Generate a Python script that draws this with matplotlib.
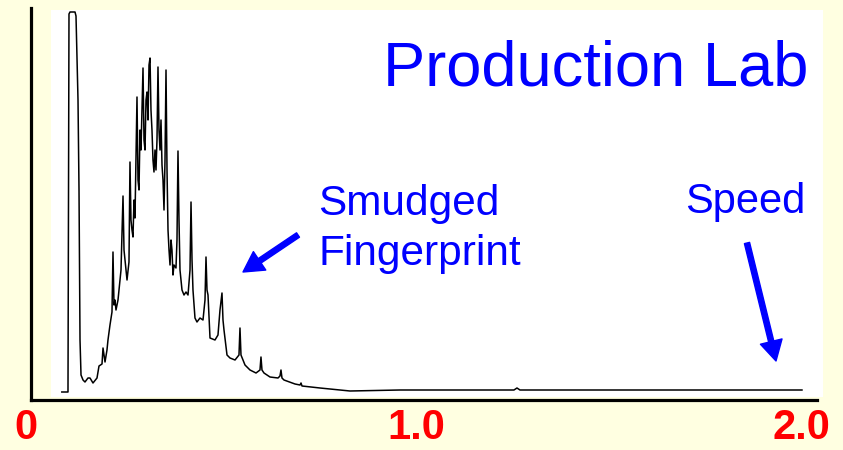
import matplotlib
matplotlib.use("Agg")
import matplotlib.pyplot as plt
from matplotlib.patches import Rectangle, FancyArrowPatch
from matplotlib.transforms import ScaledTranslation

# chromatogram trace (time, detector response)
time = [0.080, 0.096, 0.0986, 0.1012, 0.1142, 0.1168, 0.1220, 0.1246, 0.1272, 0.1298,
        0.1350, 0.1401, 0.1479, 0.1531, 0.1609, 0.1713, 0.1765, 0.1843, 0.1869, 0.1921,
        0.1972, 0.1998, 0.2050, 0.2102, 0.2128, 0.2154, 0.2180, 0.2206, 0.2258, 0.2336,
        0.2388, 0.2414, 0.2440, 0.2492, 0.2543, 0.2569, 0.2595, 0.2621, 0.2647, 0.2673,
        0.2699, 0.2751, 0.2777, 0.2803, 0.2829, 0.2855, 0.2881, 0.2907, 0.2933, 0.2959,
        0.2985, 0.3011, 0.3037, 0.3063, 0.3089, 0.3114, 0.3140, 0.3166, 0.3192, 0.3218,
        0.3244, 0.3270, 0.3296, 0.3322, 0.3348, 0.3374, 0.3400, 0.3426, 0.3452, 0.3478,
        0.3504, 0.3530, 0.3556, 0.3582, 0.3608, 0.3634, 0.3659, 0.3685, 0.3711, 0.3763,
        0.3789, 0.3815, 0.3841, 0.3867, 0.3919, 0.3971, 0.4023, 0.4075, 0.4127, 0.4153,
        0.4179, 0.4204, 0.4256, 0.4308, 0.4386, 0.4464, 0.4516, 0.4542, 0.4568, 0.4594,
        0.4646, 0.4775, 0.4853, 0.4905, 0.4957, 0.4983, 0.5009, 0.5087, 0.5165, 0.5295,
        0.5398, 0.5424, 0.5450, 0.5502, 0.5554, 0.5684, 0.5840, 0.5943, 0.5969, 0.5995,
        0.6047, 0.6203, 0.6411, 0.6462, 0.6488, 0.6514, 0.6566, 0.6852, 0.6982, 0.7008,
        0.7034, 0.7501, 0.8279, 0.9577, 1.2535, 1.2613, 1.2691, 2.001]
response = [8, 8, 386, 388, 388, 384, 300, 210, 60, 25,
            20, 18, 22, 22, 17, 22, 34, 36, 52, 38,
            50, 60, 75, 88, 148, 95, 100, 90, 100, 130,
            204, 150, 140, 120, 138, 238, 180, 170, 163, 200,
            182, 303, 220, 210, 270, 250, 290, 332, 260, 250,
            300, 308, 280, 335, 342, 290, 270, 240, 228, 250,
            230, 260, 333, 270, 250, 280, 235, 220, 190, 240,
            330, 230, 170, 150, 135, 160, 150, 125, 135, 132,
            160, 249, 180, 130, 110, 105, 108, 105, 130, 198,
            140, 110, 82, 78, 82, 80, 100, 143, 110, 105,
            62, 60, 65, 90, 107, 80, 70, 45, 42, 40,
            45, 72, 45, 40, 35, 30, 27, 30, 43, 30,
            27, 23, 22, 24, 30, 22, 20, 16, 15, 17,
            14, 12, 9, 10, 10, 12, 10, 10]

tick_pos = [0, 1.0, 2.0]
tick_labels = ['0', '1.0', '2.0']

W, H = 843, 450
BG = '#FFFFE1'
BLUE = '#0000FF'

fig = plt.figure(figsize=(W / 100, H / 100), dpi=100, facecolor=BG)
ax = fig.add_axes([31 / W, 50 / H, 786 / W, 392 / H])
ax.patch.set_alpha(0)

# white panel behind the trace
panel = Rectangle((51 / W, 1 - 397 / H), 772 / W, 387 / H, transform=fig.transFigure,
                  facecolor='white', edgecolor='none', zorder=-1)
fig.add_artist(panel)

ax.plot(time, response, color='black', lw=1.1)
ax.set_xlim(0, 2.04)
ax.set_ylim(0, 392)

for side in ['top', 'right']:
    ax.spines[side].set_visible(False)
for side in ['left', 'bottom']:
    ax.spines[side].set_linewidth(2.3)
    ax.spines[side].set_color('black')

ax.set_yticks([])
ax.set_xticks(tick_pos)
ax.set_xticklabels(tick_labels, color='red', fontsize=30, fontweight='bold',
                   family='Liberation Sans')
ax.tick_params(axis='x', length=0, pad=6)
lbl0 = ax.get_xticklabels()[0]
lbl0.set_transform(lbl0.get_transform() + ScaledTranslation(-5 / 100, 0, fig.dpi_scale_trans))


def fx(px):
    return px / W


def fy(py):
    return 1 - py / H


fig.text(fx(383), fy(85), 'Production Lab', color=BLUE, fontsize=45.5,
         family='Liberation Sans', va='baseline', ha='left')
fig.text(fx(318), fy(215), 'Smudged', color=BLUE, fontsize=30.5,
         family='Liberation Sans', va='baseline', ha='left')
fig.text(fx(318), fy(265), 'Fingerprint', color=BLUE, fontsize=30.5,
         family='Liberation Sans', va='baseline', ha='left')
fig.text(fx(685), fy(213), 'Speed', color=BLUE, fontsize=30,
         family='Liberation Sans', va='baseline', ha='left')

arrow_style = 'simple,head_length=0.72,head_width=0.8,tail_width=0.19'
for (x1, y1), (x2, y2) in [((298, 235), (243, 272)), ((747, 243), (776, 361))]:
    arr = FancyArrowPatch((fx(x1), fy(y1)), (fx(x2), fy(y2)), transform=fig.transFigure,
                          arrowstyle=arrow_style, mutation_scale=20,
                          color=BLUE, shrinkA=0, shrinkB=0, zorder=5)
    fig.add_artist(arr)

fig.savefig('out.png', dpi=100, facecolor=BG)
